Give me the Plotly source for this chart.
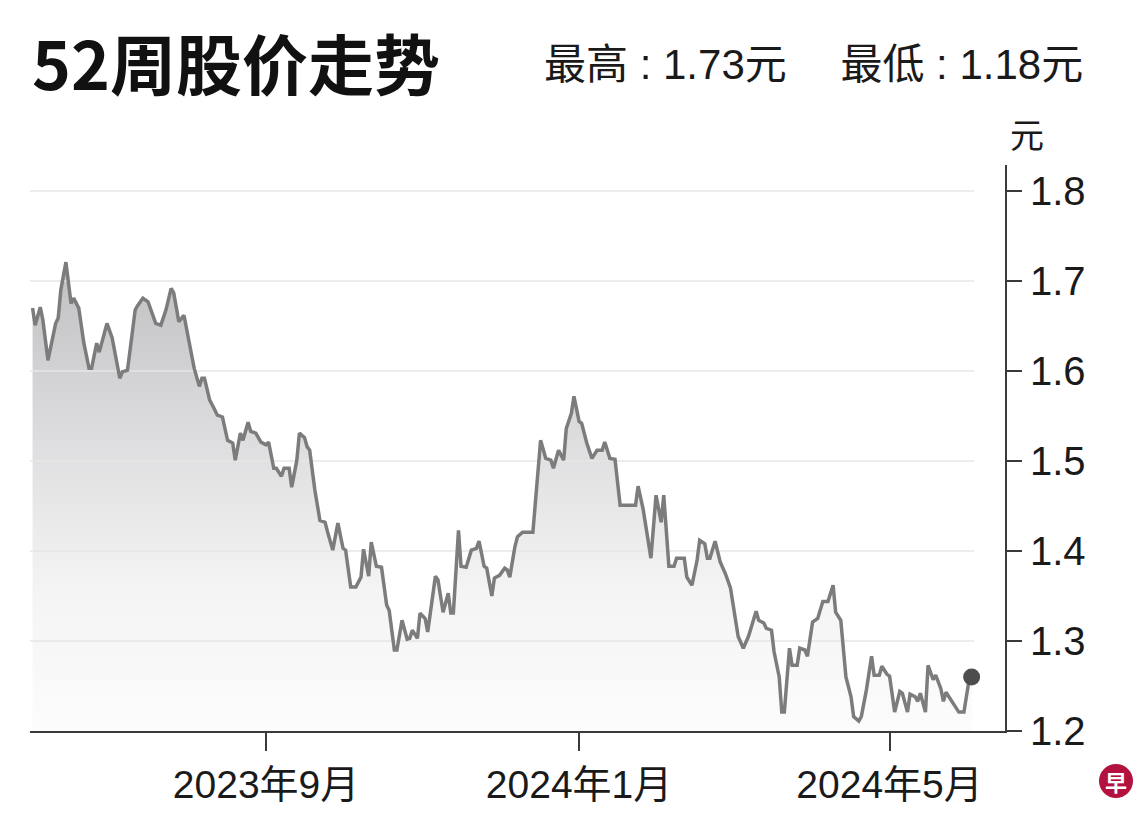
import plotly.graph_objects as go
import pandas as pd

# ---- data ----
start_date = "2023-06-01"
days = [1, 2, 4, 5, 7, 10, 11, 12, 14, 16, 17, 19, 21, 23, 24, 26, 27, 30, 32, 35, 36, 38,
        41, 42, 44, 46, 49, 51, 53, 55, 56, 58, 60, 62, 64, 66, 67, 68, 70, 72, 73, 75, 77,
        79, 80, 82, 83, 85, 86, 88, 90, 92, 93, 95, 96, 98, 99, 101, 102, 104, 105, 107, 108,
        109, 111, 113, 115, 116, 118, 120, 122, 123, 125, 127, 129, 130, 132, 133, 135, 137,
        139, 140, 142, 143, 145, 147, 148, 149, 151, 152, 154, 155, 158, 159, 161, 163, 164,
        165, 167, 168, 170, 172, 174, 175, 177, 178, 180, 181, 183, 185, 186, 187, 189, 190,
        192, 196, 198, 199, 201, 203, 204, 206, 208, 209, 211, 212, 214, 215, 217, 219, 221,
        223, 224, 226, 228, 230, 236, 237, 239, 242, 244, 246, 247, 249, 251, 252, 255, 256,
        258, 260, 261, 263, 264, 265, 267, 269, 271, 273, 275, 276, 278, 280, 283, 284, 286,
        287, 289, 290, 292, 293, 294, 296, 297, 299, 300, 302, 303, 305, 307, 309, 311, 313,
        314, 316, 318, 320, 321, 323, 324, 326, 328, 329, 331, 332, 334, 335, 337, 339, 340,
        342, 343, 345, 346, 347, 349, 350, 352, 353, 355, 356, 357, 359, 360, 362, 364, 366,
        367]
prices = [1.670, 1.651, 1.671, 1.657, 1.612, 1.653, 1.659, 1.690, 1.721, 1.675, 1.681, 1.670,
          1.631, 1.603, 1.603, 1.631, 1.621, 1.653, 1.637, 1.592, 1.599, 1.601, 1.668, 1.673,
          1.681, 1.677, 1.653, 1.651, 1.668, 1.692, 1.687, 1.655, 1.662, 1.634, 1.603, 1.583,
          1.592, 1.592, 1.568, 1.557, 1.551, 1.549, 1.523, 1.520, 1.501, 1.531, 1.523, 1.543,
          1.533, 1.531, 1.521, 1.518, 1.521, 1.492, 1.492, 1.483, 1.492, 1.492, 1.471, 1.501,
          1.531, 1.526, 1.516, 1.512, 1.468, 1.434, 1.432, 1.421, 1.401, 1.431, 1.403, 1.401,
          1.360, 1.360, 1.371, 1.402, 1.372, 1.410, 1.383, 1.382, 1.340, 1.334, 1.290, 1.290,
          1.323, 1.302, 1.303, 1.312, 1.303, 1.331, 1.325, 1.310, 1.372, 1.368, 1.332, 1.353,
          1.331, 1.331, 1.423, 1.383, 1.382, 1.401, 1.403, 1.411, 1.383, 1.381, 1.350, 1.370,
          1.373, 1.381, 1.379, 1.371, 1.405, 1.416, 1.421, 1.421, 1.490, 1.523, 1.503, 1.501,
          1.492, 1.512, 1.501, 1.536, 1.553, 1.572, 1.544, 1.542, 1.520, 1.503, 1.512, 1.512,
          1.521, 1.503, 1.502, 1.451, 1.451, 1.472, 1.446, 1.392, 1.462, 1.432, 1.462, 1.383,
          1.383, 1.392, 1.392, 1.371, 1.362, 1.390, 1.412, 1.408, 1.392, 1.392, 1.411, 1.388,
          1.375, 1.359, 1.323, 1.305, 1.292, 1.305, 1.333, 1.323, 1.320, 1.314, 1.312, 1.288,
          1.260, 1.221, 1.221, 1.292, 1.273, 1.273, 1.292, 1.290, 1.283, 1.321, 1.325, 1.344,
          1.344, 1.362, 1.332, 1.323, 1.260, 1.238, 1.216, 1.211, 1.216, 1.246, 1.283, 1.262,
          1.262, 1.272, 1.263, 1.261, 1.221, 1.244, 1.242, 1.221, 1.241, 1.238, 1.233, 1.242,
          1.221, 1.273, 1.257, 1.262, 1.247, 1.233, 1.243, 1.234, 1.231, 1.221, 1.221, 1.257,
          1.260]

x_tick_dates = ["2023-09-01", "2024-01-01", "2024-05-01"]
x_tick_labels = ["2023年9月", "2024年1月", "2024年5月"]
y_ticks = [1.2, 1.3, 1.4, 1.5, 1.6, 1.7, 1.8]
title_text = "52周股价走势"
header_text = "最高 : 1.73元　 最低 : 1.18元"
unit_text = "元"
logo_text = "早"

# ---- figure ----
dates = pd.Timestamp(start_date) + pd.to_timedelta(days, unit="D")
x_range = ["2023-06-01", "2024-06-15"]
grid_end = "2024-06-03"

LAT = "Liberation Sans, Arial, Noto Sans CJK SC, sans-serif"
CJK = "Noto Sans CJK SC, Liberation Sans, sans-serif"

fig = go.Figure()

# gradient area
fig.add_trace(go.Scatter(
    x=dates, y=prices, mode="lines", line=dict(width=0),
    fill="tozeroy",
    fillgradient=dict(type="vertical",
                      colorscale=[[0, "#fcfcfc"], [0.3, "#f4f4f4"], [0.6, "#dfdfe1"], [1, "#c0c0c3"]],
                      start=1.2, stop=1.72),
    hoverinfo="skip", showlegend=False))

# gridlines (over the fill, under the line)
gx, gy = [], []
for v in y_ticks[1:]:
    gx += [x_range[0], grid_end, None]
    gy += [v, v, None]
fig.add_trace(go.Scatter(x=gx, y=gy, mode="lines",
                         line=dict(color="#e6e6e6", width=1.5),
                         hoverinfo="skip", showlegend=False))

# price line
fig.add_trace(go.Scatter(x=dates, y=prices, mode="lines",
                         line=dict(color="#7c7c7c", width=3.5),
                         showlegend=False))
# last point marker
fig.add_trace(go.Scatter(x=[dates[-1]], y=[prices[-1]], mode="markers",
                         marker=dict(color="#4d4d4d", size=17),
                         showlegend=False))

fig.update_layout(
    width=1140, height=823, autosize=False,
    margin=dict(l=30, r=135, t=165, b=92),
    paper_bgcolor="white", plot_bgcolor="white",
    showlegend=False,
    xaxis=dict(type="date", range=x_range, showgrid=False, zeroline=False,
               showline=True, linecolor="#3a3a3a", linewidth=2,
               ticks="outside", ticklen=18, tickwidth=2, tickcolor="#3a3a3a",
               tickvals=x_tick_dates, ticktext=x_tick_labels,
               tickfont=dict(family=LAT, size=39, color="#1a1a1a")),
    yaxis=dict(range=[1.2, 1.829], side="right", showgrid=False, zeroline=False,
               showline=True, linecolor="#3a3a3a", linewidth=2,
               ticks="outside", ticklen=15, tickwidth=2, tickcolor="#3a3a3a",
               tickvals=y_ticks, ticktext=[f"{v:.1f}" for v in y_ticks],
               tickfont=dict(family=LAT, size=40, color="#1a1a1a")),
)

# title and header
fig.add_annotation(text=f"<b>{title_text}</b>", xref="paper", yref="paper",
                   x=0.0, y=1.183, xanchor="left", yanchor="middle", showarrow=False,
                   font=dict(family=CJK, size=66, color="#111111"))
fig.add_annotation(text=header_text, xref="paper", yref="paper",
                   x=1.082, y=1.178, xanchor="right", yanchor="middle", showarrow=False,
                   font=dict(family=LAT, size=42, color="#1a1a1a"))
fig.add_annotation(text=unit_text, xref="paper", yref="paper",
                   x=1.0226, y=1.0565, xanchor="center", yanchor="middle", showarrow=False,
                   font=dict(family=CJK, size=34, color="#1a1a1a"))

# logo
fig.add_shape(type="circle", xref="paper", yref="paper",
              x0=1.0964, x1=1.1313, y0=-0.1184, y1=-0.0583,
              fillcolor="#b3123f", line=dict(width=0))
fig.add_annotation(text=f"<b>{logo_text}</b>", xref="paper", yref="paper",
                   x=1.1138, y=-0.0883, xanchor="center", yanchor="middle", showarrow=False,
                   font=dict(family=CJK, size=22, color="white"))

fig.write_html("out.html", config={"displayModeBar": False},
               post_script="document.body.style.margin='0';document.body.style.overflow='hidden';")
